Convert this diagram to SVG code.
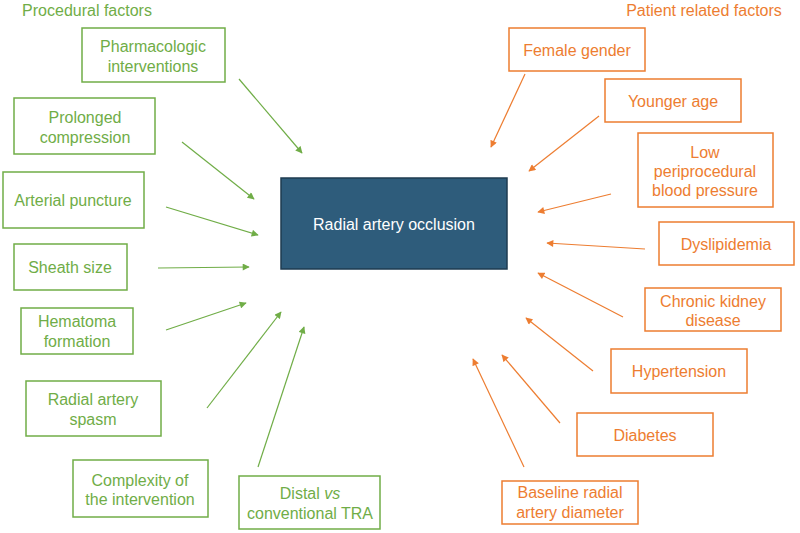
<svg xmlns="http://www.w3.org/2000/svg" width="800" height="533" viewBox="0 0 800 533">
<style>
text{font-family:"Liberation Sans",Arial,sans-serif;font-size:16px;text-anchor:middle}
.g rect{fill:#fff;stroke:#70ad47;stroke-width:1.5}
.g text{fill:#70ad47}
.o rect{fill:#fff;stroke:#ed7d31;stroke-width:1.5}
.o text{fill:#ed7d31}
.cg{stroke:#70ad47;stroke-width:1.2;fill:none;marker-end:url(#ag)}
.co{stroke:#ed7d31;stroke-width:1.2;fill:none;marker-end:url(#ao)}
</style>
<defs>
<marker id="ag" viewBox="0 0 10 10" refX="9" refY="5" markerWidth="8" markerHeight="7" markerUnits="userSpaceOnUse" orient="auto"><path d="M0,0L10,5L0,10z" fill="#70ad47"/></marker>
<marker id="ao" viewBox="0 0 10 10" refX="9" refY="5" markerWidth="8" markerHeight="7" markerUnits="userSpaceOnUse" orient="auto"><path d="M0,0L10,5L0,10z" fill="#ed7d31"/></marker>
</defs>
<rect width="800" height="533" fill="#fff"/>
<text x="87" y="16" fill="#70ad47">Procedural factors</text>
<text x="704" y="16" fill="#ed7d31">Patient related factors</text>

<g id="center"><rect x="281" y="178" width="226" height="91" fill="#2e5c7b" stroke="#1e3b50" stroke-width="1.5"/><text x="394" y="230" fill="#fff">Radial artery occlusion</text></g>

<g class="g">
<g id="pharm"><rect x="82" y="28" width="143" height="54"/><text x="153" y="52">Pharmacologic</text><text x="153" y="72">interventions</text></g>
<g id="prolonged"><rect x="14" y="98" width="141" height="56"/><text x="85" y="123">Prolonged</text><text x="85" y="143">compression</text></g>
<g id="arterial"><rect x="3" y="172" width="141" height="56"/><text x="73" y="206">Arterial puncture</text></g>
<g id="sheath"><rect x="14" y="244" width="113" height="46"/><text x="70" y="273">Sheath size</text></g>
<g id="hematoma"><rect x="21" y="308" width="112" height="46"/><text x="77" y="327">Hematoma</text><text x="77" y="347">formation</text></g>
<g id="spasm"><rect x="26" y="381" width="135" height="55"/><text x="93" y="405">Radial artery</text><text x="93" y="425">spasm</text></g>
<g id="complexity"><rect x="73" y="460" width="135" height="57"/><text x="140" y="486">Complexity of</text><text x="140" y="505">the intervention</text></g>
<g id="distal"><rect x="239" y="476" width="141" height="53"/><text x="310" y="499">Distal <tspan font-style="italic">vs</tspan></text><text x="310" y="519">conventional TRA</text></g>
</g>

<g class="o">
<g id="female"><rect x="509" y="28" width="136" height="43"/><text x="577" y="56">Female gender</text></g>
<g id="younger"><rect x="605" y="79" width="136" height="43"/><text x="673" y="107">Younger age</text></g>
<g id="lowbp"><rect x="638" y="133" width="135" height="74"/><text x="705" y="158">Low</text><text x="705" y="177">periprocedural</text><text x="705" y="196">blood pressure</text></g>
<g id="dyslip"><rect x="659" y="222" width="135" height="43"/><text x="726" y="250">Dyslipidemia</text></g>
<g id="ckd"><rect x="645" y="288" width="136" height="43"/><text x="713" y="307">Chronic kidney</text><text x="713" y="326">disease</text></g>
<g id="htn"><rect x="611" y="349" width="136" height="44"/><text x="679" y="377">Hypertension</text></g>
<g id="diab"><rect x="577" y="413" width="136" height="43"/><text x="645" y="441">Diabetes</text></g>
<g id="baseline"><rect x="502" y="481" width="136" height="43"/><text x="570" y="498">Baseline radial</text><text x="570" y="518">artery diameter</text></g>
</g>

<g id="connectors">
<line class="cg" x1="239" y1="79" x2="302" y2="153"/>
<line class="cg" x1="182" y1="142" x2="254" y2="199"/>
<line class="cg" x1="166" y1="207" x2="258" y2="235"/>
<line class="cg" x1="158" y1="268" x2="249" y2="267"/>
<line class="cg" x1="166" y1="330" x2="246" y2="303"/>
<line class="cg" x1="207" y1="408" x2="281" y2="312"/>
<line class="cg" x1="258" y1="467" x2="304" y2="327"/>
<line class="co" x1="525" y1="74" x2="491" y2="147"/>
<line class="co" x1="599" y1="116" x2="529" y2="171"/>
<line class="co" x1="611" y1="194" x2="538" y2="212"/>
<line class="co" x1="645" y1="249" x2="547" y2="243"/>
<line class="co" x1="623" y1="317" x2="538" y2="273"/>
<line class="co" x1="593" y1="371" x2="526" y2="318"/>
<line class="co" x1="560" y1="423" x2="502" y2="355"/>
<line class="co" x1="524" y1="467" x2="473" y2="359"/>
</g>
</svg>
